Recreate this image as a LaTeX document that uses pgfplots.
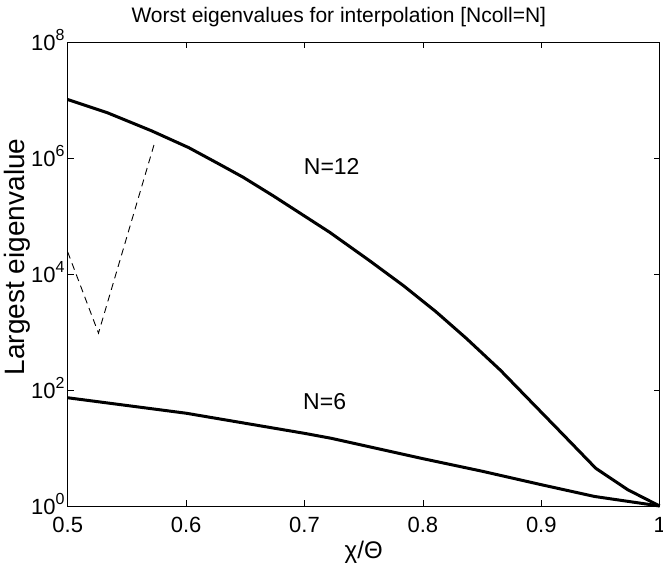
\documentclass[border=0pt]{standalone}
\usepackage{fontspec}
\setmainfont{Liberation Sans}
\usepackage{pgfplots}
\pgfplotsset{compat=1.18}

% power-of-ten tick label with a raised exponent
\newcommand\dec[1]{10\raisebox{10pt}{\fontsize{16}{16}\selectfont #1}}

% Largest eigenvalue of the interpolation matrix (Ncoll = N)
\pgfplotstableread{
x        lam
0.5000   1.02e7
0.5335   6.03e6
0.5707   2.95e6
0.6022   1.51e6
0.6284   7.76e5
0.6480   4.68e5
0.6734   2.24e5
0.7212   5.25e4
0.7549   1.70e4
0.7835   6.31e3
0.8110   2.24e3
0.8367   776
0.8655   219
0.8922   60.3
0.9175   17.8
0.9460   4.47
0.9730   1.91
1.0000   1
}\neTwelve

\pgfplotstableread{
x        lam
0.5000   73.5
0.6000   39.8
0.7000   17.9
0.7226   14.7
0.8000   6.55
0.8500   3.98
0.9000   2.33
0.9450   1.46
1.0000   1
}\neSix

\pgfplotstableread{
x        lam
0.5000   2.4e4
0.5260   955
0.5735   1.86e6
}\dashed

\begin{document}
\begin{tikzpicture}[x=1pt,y=1pt]
\useasboundingbox (0,0) rectangle (663,566);
\begin{axis}[
  at={(67.7pt,60pt)}, anchor=south west,
  scale only axis, width=592pt, height=464pt,
  xmin=0.5, xmax=1,
  ymode=log, ymin=1, ymax=1e8,
  xtick={0.5,0.6,0.7,0.8,0.9,1},
  xticklabels={0.5,0.6,0.7,0.8,0.9,1},
  ytick={1,1e2,1e4,1e6,1e8},
  yticklabels={\dec{0},\dec{2},\dec{4},\dec{6},\dec{8}},
  yminorticks=false, xminorticks=false,
  tick align=inside, major tick length=6pt,
  tick style={black, line width=0.8pt},
  axis line style={line width=1pt},
  ticklabel style={font=\fontsize{22}{24}\selectfont, inner sep=0pt},
  xticklabel style={anchor=base, yshift=-26pt},
  yticklabel style={anchor=base east, xshift=-3pt, yshift=-8pt},
  xlabel={χ/Θ},
  xlabel style={font=\fontsize{24}{26}\selectfont, at={(axis description cs:0.5,0)}, anchor=base, yshift=-52pt},
  ylabel={Largest eigenvalue},
  ylabel style={font=\fontsize{28}{30}\selectfont, at={(axis description cs:-0.086,0.537)}, anchor=center},
  clip=false,
]
\addplot[black, line width=3pt, line join=round] table[x=x, y=lam] {\neTwelve};
\addplot[black, line width=3pt, line join=round] table[x=x, y=lam] {\neSix};
\addplot[black, line width=0.9pt, dash pattern=on 7pt off 5pt] table[x=x, y=lam] {\dashed};
\node[font=\fontsize{23}{24}\selectfont] at (axis cs:0.723,7.1e5) {N=12};
\node[font=\fontsize{23}{24}\selectfont] at (axis cs:0.717,63) {N=6};
\end{axis}
% title, set over the plot box
\node[font=\fontsize{21}{24}\selectfont, anchor=base west] at (128,543) {Worst eigenvalues for interpolation [Ncoll=N]};
\end{tikzpicture}
\end{document}
